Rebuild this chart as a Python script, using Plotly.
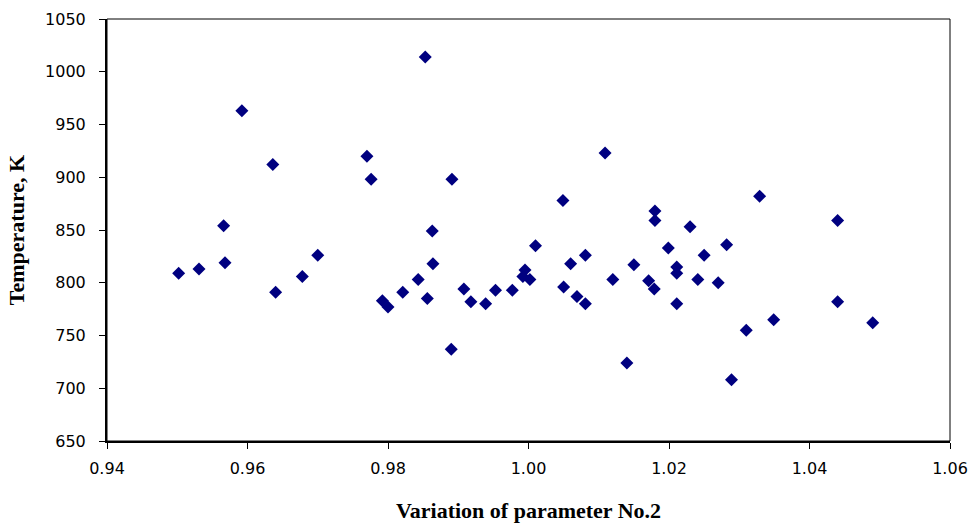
import plotly.graph_objects as go

variation = [0.9502, 0.9531, 0.9566, 0.9568, 0.9592, 0.9636, 0.9640, 0.9678, 0.9700,
             0.9770, 0.9776, 0.9792, 0.9800, 0.9821, 0.9843, 0.9853, 0.9856, 0.9863,
             0.9864, 0.9890, 0.9891, 0.9908, 0.9918, 0.9939, 0.9953, 0.9977, 0.9992,
             0.9995, 1.0002, 1.0010, 1.0049, 1.0050, 1.0060, 1.0069, 1.0081, 1.0081,
             1.0109, 1.0120, 1.0140, 1.0150, 1.0171, 1.0179, 1.0180, 1.0180, 1.0199,
             1.0211, 1.0211, 1.0211, 1.0230, 1.0241, 1.0250, 1.0270, 1.0282, 1.0289,
             1.0310, 1.0329, 1.0349, 1.0440, 1.0440, 1.0490]
temperature = [809, 813, 854, 819, 963, 912, 791, 806, 826,
               920, 898, 783, 777, 791, 803, 1014, 785, 849,
               818, 737, 898, 794, 782, 780, 793, 793, 806,
               812, 803, 835, 878, 796, 818, 787, 826, 780,
               923, 803, 724, 817, 802, 794, 868, 859, 833,
               815, 809, 780, 853, 803, 826, 800, 836, 708,
               755, 882, 765, 859, 782, 762]

x_ticks = [0.94, 0.96, 0.98, 1.00, 1.02, 1.04, 1.06]
x_tick_labels = ["0.94", "0.96", "0.98", "1.00", "1.02", "1.04", "1.06"]
y_ticks = [650, 700, 750, 800, 850, 900, 950, 1000, 1050]

x_range = [0.94, 1.06]
y_range = [650, 1050]

tick_font = dict(family="DejaVu Sans", size=16, color="#000000")
title_font = dict(family="Liberation Serif", size=22, color="#000000", weight="bold")

fig = go.Figure()
fig.add_trace(go.Scatter(
    x=variation, y=temperature, mode="markers",
    marker=dict(symbol="diamond", size=10, color="#000080", line=dict(width=0)),
    showlegend=False, hoverinfo="x+y",
))

fig.update_layout(
    width=973, height=526,
    margin=dict(l=107, r=23, t=19, b=85, autoexpand=False),
    paper_bgcolor="white", plot_bgcolor="white",
    xaxis=dict(
        range=x_range, tickmode="array", tickvals=x_ticks, ticktext=x_tick_labels,
        ticks="outside", ticklen=6, tickwidth=1, tickcolor="black", automargin=False,
        showline=True, linewidth=2, linecolor="black", showgrid=False, zeroline=False,
        tickfont=tick_font, ticklabelstandoff=6,
        title=dict(text="Variation of parameter No.2", font=title_font, standoff=25),
    ),
    yaxis=dict(
        range=y_range, tickmode="array", tickvals=y_ticks, automargin=False,
        ticks="outside", ticklen=6, tickwidth=1, tickcolor="black",
        showline=True, linewidth=2, linecolor="black", showgrid=False, zeroline=False,
        tickfont=tick_font, ticklabelstandoff=10,
        title=dict(text="Temperature, K", font=title_font, standoff=14),
    ),
    xaxis2=dict(
        range=x_range, overlaying="x", anchor="y", side="bottom", automargin=False,
        tickmode="array", tickvals=x_ticks, showticklabels=False,
        ticks="inside", ticklen=6, tickwidth=1, tickcolor="black",
        showline=False, showgrid=False, zeroline=False,
    ),
    yaxis2=dict(
        range=y_range, overlaying="y", anchor="x", side="left", automargin=False,
        tickmode="array", tickvals=y_ticks, showticklabels=False,
        ticks="inside", ticklen=6, tickwidth=1, tickcolor="black",
        showline=False, showgrid=False, zeroline=False,
    ),
    shapes=[dict(type="rect", xref="x domain", yref="y domain", x0=0, x1=1, y0=0, y1=1,
                 line=dict(color="black", width=1), fillcolor="rgba(0,0,0,0)", layer="below")],
)

fig.write_html("out.html")
